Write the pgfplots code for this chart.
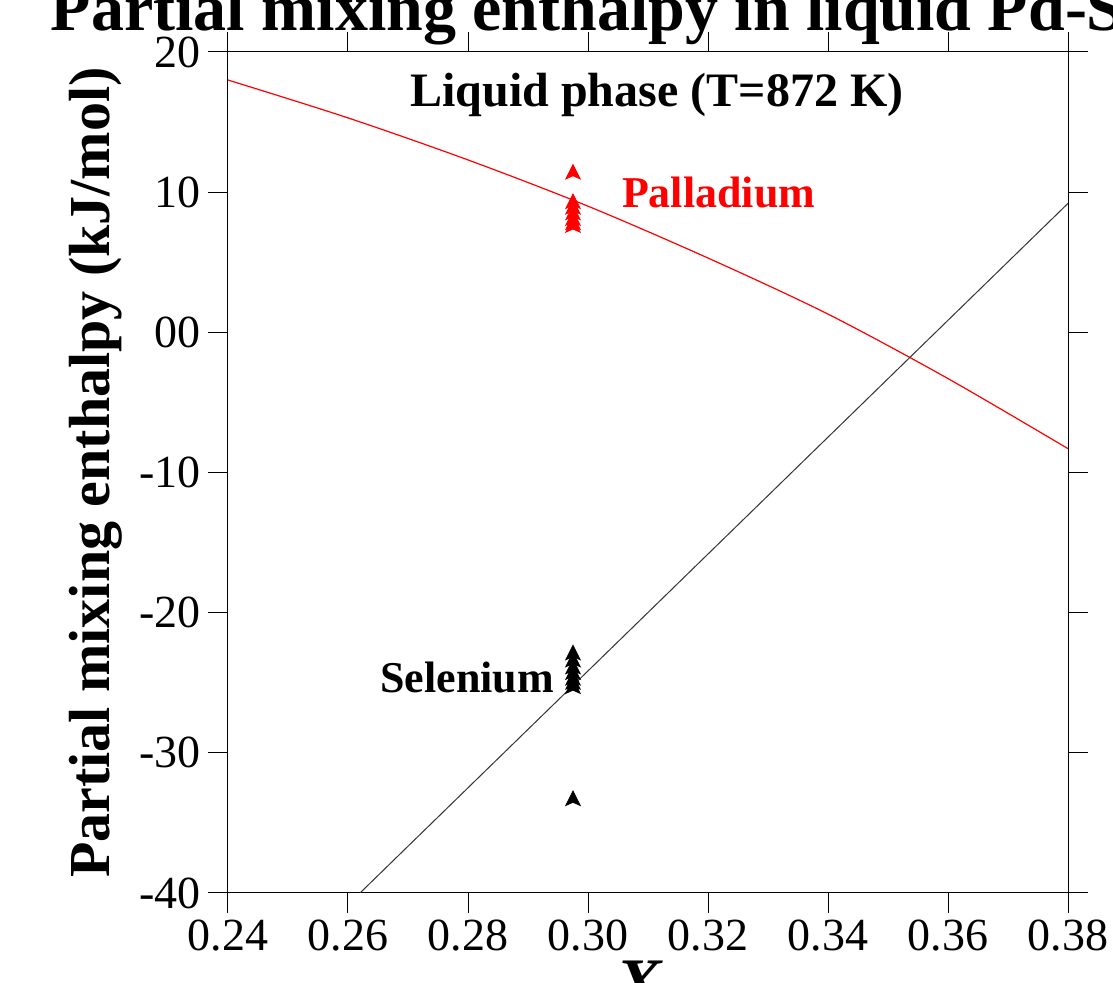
\documentclass[border=0pt]{standalone}
\usepackage{pgfplots}
\pgfplotsset{compat=1.18}
\usepackage{fontspec}
\setmainfont{Liberation Serif}
\pgfdeclareplotmark{arrowtree}{%
  \pgfpathmoveto{\pgfqpoint{0pt}{\pgfplotmarksize}}%
  \pgfpathlineto{\pgfqpoint{0.9\pgfplotmarksize}{-0.8\pgfplotmarksize}}%
  \pgfpathlineto{\pgfqpoint{0pt}{-0.4\pgfplotmarksize}}%
  \pgfpathlineto{\pgfqpoint{-0.9\pgfplotmarksize}{-0.8\pgfplotmarksize}}%
  \pgfpathclose\pgfusepathqfillstroke}
\begin{document}
\begin{tikzpicture}
\begin{axis}[scale only axis, width=420pt, height=420.5pt,
  xmin=0.24, xmax=0.38, ymin=-40, ymax=20,
  xtick={0.24,0.26,...,0.38},
  xticklabels={0.24,0.26,0.28,0.30,0.32,0.34,0.36,0.38},
  ytick={-40,-30,...,20},
  yticklabels={-40,-30,-20,-10,00,10,20},
  tick align=outside, major tick length=10pt,
  xtick pos=both, ytick pos=both,
  tick style={black, line width=0.5pt},
  axis line style={line width=0.5pt},
  /pgf/number format/assume math mode=true,
  ticklabel style={font=\fontsize{23}{26}\selectfont},
  ylabel={\textbf{Partial mixing enthalpy (kJ/mol)}},
  ylabel style={font=\fontsize{29}{32}\selectfont, yshift=2pt},
  xlabel={\textbf{\textit{X}\textsubscript{Se}}},
  xlabel style={font=\fontsize{34}{38}\selectfont, yshift=2pt, xshift=8pt},
  title={\textbf{Partial mixing enthalpy in liquid Pd-Se}},
  title style={font=\fontsize{33}{36}\selectfont, yshift=-6pt, xshift=-23pt},
  clip=true]
\addplot[red, smooth, line width=0.6pt] coordinates {(0.24,18.0)(0.26,15.3)(0.28,12.3)(0.30,9.0)(0.32,5.3)(0.34,1.3)(0.36,-3.3)(0.38,-8.3)};
\addplot[black!80, line width=0.5pt] coordinates {(0.262,-40)(0.38,9.2)};
\addplot[only marks, red, mark=arrowtree, mark size=4pt] coordinates {(0.2975,11.4)(0.2975,9.3)(0.2975,8.9)(0.2975,8.5)(0.2975,8.1)(0.2975,7.8)(0.2975,7.6)};
\addplot[only marks, black, mark=arrowtree, mark size=4pt] coordinates {(0.2975,-22.9)(0.2975,-23.4)(0.2975,-23.9)(0.2975,-24.3)(0.2975,-24.7)(0.2975,-25.0)(0.2975,-25.3)(0.2975,-33.3)};
\node[font=\bfseries\fontsize{24}{28}\selectfont] at (axis cs:0.3115,16.9) {Liquid phase (T=872 K)};
\node[font=\bfseries\fontsize{22}{26}\selectfont, red, anchor=west] at (axis cs:0.3045,10.0) {Palladium};
\node[font=\bfseries\fontsize{22}{26}\selectfont, anchor=east] at (axis cs:0.2955,-24.6) {Selenium};
\end{axis}
\pgfresetboundingbox
\path (current axis.south west) ++(-114pt,-45pt) rectangle ++(556.5pt,491.5pt);
\end{tikzpicture}
\end{document}
